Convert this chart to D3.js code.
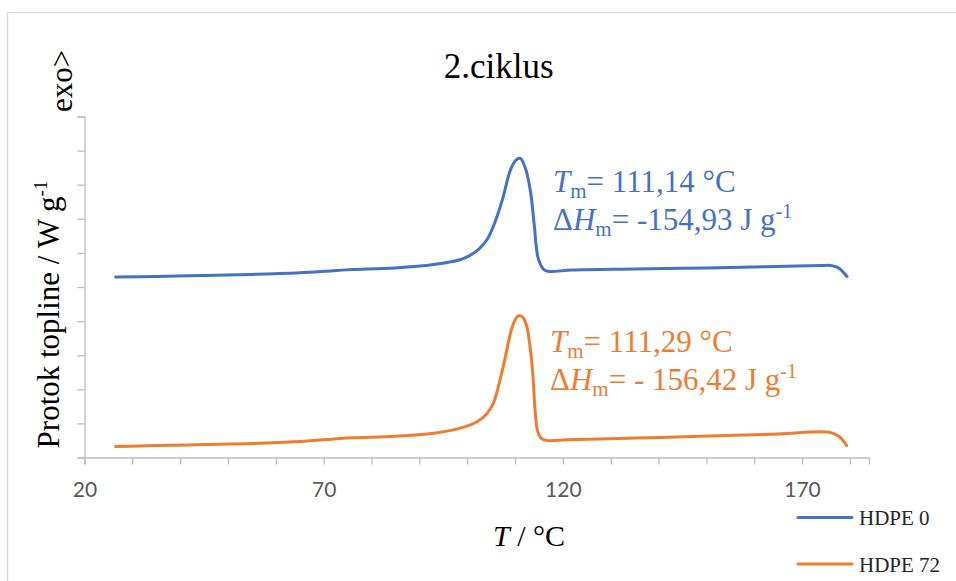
<!DOCTYPE html>
<html>
<head>
<meta charset="utf-8">
<script src="https://cdn.jsdelivr.net/npm/d3@7"></script>
<style>
  html, body { margin: 0; padding: 0; background: #fff; }
  svg { display: block; }
</style>
</head>
<body>
<svg id="chart" width="956" height="581"></svg>
<script>
// ---- data ----
const seriesNames = ["HDPE 0", "HDPE 72"];
const tempHDPE0 = [26.5, 35, 45, 55, 65, 72, 76, 85, 93, 98.5, 100.5, 102.5, 104.2, 105.8, 107.5, 109.0, 110.2, 111.1, 112.1, 113.2, 114.0, 114.8, 115.9, 116.9, 122, 135, 150, 165, 174, 176, 177.5, 178.5, 179.4];
const valHDPE0  = [5.29, 5.31, 5.34, 5.37, 5.42, 5.48, 5.51, 5.56, 5.66, 5.80, 5.92, 6.12, 6.40, 6.90, 7.63, 8.42, 8.72, 8.77, 8.51, 7.83, 6.85, 5.87, 5.53, 5.46, 5.50, 5.53, 5.56, 5.60, 5.63, 5.63, 5.57, 5.45, 5.31];
const tempHDPE72 = [26.5, 35, 45, 55, 65, 72, 76, 85, 93, 98.5, 102.1, 104.2, 105.5, 107.5, 109.4, 110.4, 111.1, 111.8, 112.5, 113.6, 114.2, 114.7, 115.5, 116.7, 120.9, 135, 148.7, 165, 175.8, 177.9, 179.3];
const valHDPE72  = [0.32, 0.35, 0.38, 0.41, 0.47, 0.54, 0.58, 0.62, 0.71, 0.86, 1.05, 1.30, 1.60, 2.65, 3.82, 4.12, 4.16, 4.08, 3.82, 2.65, 1.38, 0.79, 0.56, 0.50, 0.52, 0.57, 0.62, 0.69, 0.74, 0.60, 0.35];
const xTickValues = [20, 30, 40, 50, 60, 70, 80, 90, 100, 110, 120, 130, 140, 150, 160, 170, 180];
const xTickLabels = [20, 70, 120, 170];
const yTickValues = [0, 1, 2, 3, 4, 5, 6, 7, 8, 9, 10];
const titleText = "2.ciklus";
const annotHDPE0 = { tm: "111,14 °C", dh: "-154,93 J g" };
const annotHDPE72 = { tm: "111,29 °C", dh: "- 156,42 J g" };

const colors = ["#4472C4", "#ED7D31"];
const serif = "'Liberation Serif', 'Times New Roman', serif";
const tickFont = "'Liberation Sans Narrow', 'Lato', sans-serif";

const svg = d3.select("#chart");

// outer frame
svg.append("rect").attr("x", 7.5).attr("y", 12.5).attr("width", 960).attr("height", 580)
  .attr("fill", "none").attr("stroke", "#D9D9D9").attr("stroke-width", 1.3);

const x = d3.scaleLinear().domain([20, 184]).range([84.5, 869]);
const y = d3.scaleLinear().domain([0, 10]).range([457.5, 116.5]);

// x axis
const xAxis = d3.axisBottom(x).tickValues(xTickValues).tickSize(7)
  .tickFormat(d => xTickLabels.includes(d) ? d : "");
const gx = svg.append("g").attr("transform", `translate(0,${y(0)})`).call(xAxis);
gx.select(".domain").attr("stroke", "#BFBFBF").attr("stroke-width", 1.3);
gx.selectAll(".tick line").attr("stroke", "#BFBFBF").attr("stroke-width", 1.3);
gx.selectAll(".tick text").attr("fill", "#595959").attr("font-family", tickFont)
  .attr("font-size", 21).attr("dy", 0).attr("y", 39);

// y axis
const yAxis = d3.axisLeft(y).tickValues(yTickValues).tickSize(7).tickFormat("");
const gy = svg.append("g").attr("transform", `translate(${x(20)},0)`).call(yAxis);
gy.select(".domain").attr("stroke", "#BFBFBF").attr("stroke-width", 1.3);
gy.selectAll(".tick line").attr("stroke", "#BFBFBF").attr("stroke-width", 1.3);

// lines
const line = d3.line().x(d => x(d[0])).y(d => y(d[1])).curve(d3.curveCatmullRom.alpha(0.5));
const data = [
  d3.zip(tempHDPE0, valHDPE0),
  d3.zip(tempHDPE72, valHDPE72)
];
data.forEach((d, i) => {
  svg.append("path").datum(d).attr("d", line)
    .attr("fill", "none").attr("stroke", colors[i]).attr("stroke-width", 3)
    .attr("stroke-linejoin", "round").attr("stroke-linecap", "round");
});

// title
svg.append("text").attr("x", 498.7).attr("y", 78).attr("text-anchor", "middle")
  .attr("font-family", serif).attr("font-size", 35).attr("fill", "#000").text(titleText);

// x-axis title
const xt = svg.append("text").attr("x", 529).attr("y", 546).attr("text-anchor", "middle")
  .attr("font-family", serif).attr("font-size", 30).attr("fill", "#000");
xt.append("tspan").attr("font-style", "italic").text("T");
xt.append("tspan").text(" / °C");

// y-axis title
const yt = svg.append("text").attr("transform", "translate(59,314.5) rotate(-90)")
  .attr("text-anchor", "middle").attr("font-family", serif).attr("font-size", 31).attr("fill", "#000");
yt.append("tspan").text("Protok topline / W g");
yt.append("tspan").attr("font-size", 19).attr("dy", -12).text("-1");

svg.append("text").attr("transform", "translate(72,112) rotate(-90)")
  .attr("text-anchor", "start").attr("font-family", serif).attr("font-size", 31).attr("fill", "#000")
  .text("exo>");

// annotations
function annotate(ax, ay, a, color) {
  const t1 = svg.append("text").attr("x", ax).attr("y", ay)
    .attr("font-family", serif).attr("font-size", 31).attr("fill", color);
  t1.append("tspan").attr("font-style", "italic").text("T");
  t1.append("tspan").attr("font-size", 21).attr("dy", 6).text("m");
  t1.append("tspan").attr("dy", -6).text("= " + a.tm);
  const t2 = svg.append("text").attr("x", ax).attr("y", ay + 38.5)
    .attr("font-family", serif).attr("font-size", 31).attr("fill", color);
  t2.append("tspan").text("Δ");
  t2.append("tspan").attr("font-style", "italic").text("H");
  t2.append("tspan").attr("font-size", 21).attr("dy", 6).text("m");
  t2.append("tspan").attr("dy", -6).text("= " + a.dh);
  t2.append("tspan").attr("font-size", 20).attr("dy", -12).text("-1");
}
annotate(553, 191.5, annotHDPE0, colors[0]);
annotate(550, 351.5, annotHDPE72, colors[1]);

// legend
const legY = [517.5, 564];
seriesNames.forEach((n, i) => {
  svg.append("line").attr("x1", 798).attr("x2", 852).attr("y1", legY[i]).attr("y2", legY[i])
    .attr("stroke", colors[i]).attr("stroke-width", 3).attr("stroke-linecap", "round");
  svg.append("text").attr("x", 859).attr("y", legY[i] + 7.5)
    .attr("font-family", serif).attr("font-size", 21).attr("fill", "#262626").text(n);
});
</script>
</body>
</html>
